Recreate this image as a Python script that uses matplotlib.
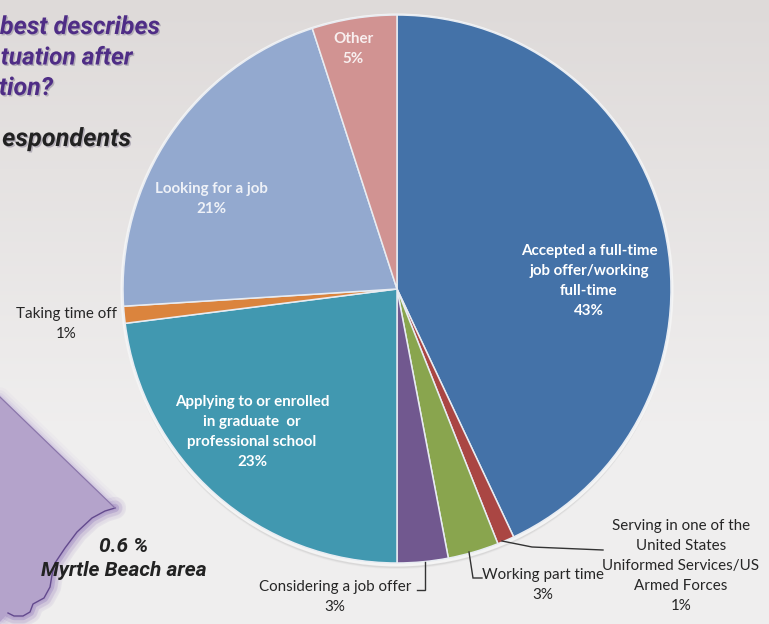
import numpy as np
import matplotlib
matplotlib.use("Agg")
import matplotlib.pyplot as plt
import matplotlib.patheffects as pe
from matplotlib.patches import Circle, Polygon

W, H = 769, 624
CX, CY, R = 397, 289, 274

shares = [43, 1, 3, 3, 23, 1, 21, 5]
colors = ["#4472a8", "#aa4643", "#89a54e", "#71588f",
          "#4198b0", "#db843d", "#93a9cf", "#d19392"]

coast_x = [0, 115, 105, 92, 77, 65, 55, 52, 50, 44, 33, 30, 23, 14, 8, 0]
coast_y = [397, 508, 511, 518, 532, 548, 563, 575, 587, 598, 604, 612, 616, 616, 613, 622]

fig = plt.figure(figsize=(W / 100, H / 100), dpi=100)

# page backdrop: soft vertical ramp from warm grey to near white
bg = fig.add_axes([0, 0, 1, 1])
bg.set_xlim(0, W)
bg.set_ylim(H, 0)
bg.axis("off")
t = np.clip(np.linspace(0, 1, 256) * 1.45, 0, 1)[:, None, None]
ramp = (1 - t) * np.array([[[0.871, 0.855, 0.851]]]) + t * np.array([[[0.94, 0.935, 0.935]]])
bg.imshow(ramp, extent=[0, W, H, 0], aspect="auto", zorder=0)

# state outline with a pale glow along its edge
outline = np.column_stack([coast_x, coast_y])
for lw, a in [(14, 0.05), (10, 0.08), (6, 0.12), (3, 0.18)]:
    bg.add_patch(Polygon(outline, closed=True, fc="none", ec="#a88fd0", lw=lw,
                         alpha=a, joinstyle="round", zorder=1))
for lw, a in [(16, 0.08), (11, 0.12), (6, 0.18)]:
    bg.plot(coast_x[1:-1], coast_y[1:-1], color="#7a5aa8", lw=lw, alpha=a,
            solid_capstyle="round", zorder=1)
bg.add_patch(Polygon(outline, closed=True, fc="#b4a3cb", ec="none", zorder=2))
bg.plot(coast_x[1:-1], coast_y[1:-1], color="#634a8e", lw=1.0, zorder=3)
bg.plot(coast_x[:2], coast_y[:2], color="#8a76aa", lw=0.9, zorder=3)

# rim and drop shadow behind the pie
for off, grow, a in [(5, 1, 0.05), (4, 1, 0.09), (3, 0, 0.14)]:
    bg.add_patch(Circle((CX, CY + off), R + grow, fc="#555555", ec="none",
                        alpha=a, zorder=4))
bg.add_patch(Circle((CX, CY + 1), R + 2.5, fc="#f4f4f4", ec="none", zorder=5))

# heading fragments
heading = dict(family="Roboto", weight="bold", style="italic",
               ha="right", va="center", zorder=6)
shadow = [pe.withSimplePatchShadow(offset=(1, -1), shadow_rgbFace="#a09aa8", alpha=0.7)]
for txt, x, y, size in [("best describes", 160, 27, 18), ("tuation after", 132, 58, 17.6),
                        ("tion?", 53, 88, 18)]:
    bg.text(x, y, txt, color="#4f2d86", path_effects=shadow, fontsize=size, **heading)
bg.text(131, 139, "espondents", color="#222222", path_effects=shadow, fontsize=18.2, **heading)
caption = dict(family="Roboto", weight="bold", style="italic", fontsize=15,
               color="#222222", ha="center", va="center", zorder=6)
bg.text(124, 546, "0.6 %", **caption)
bg.text(124, 571, "Myrtle Beach area", **caption)

# the pie itself, in axes sized so radius 1 spans R pixels
pie_ax = fig.add_axes([(CX - R) / W, 1 - (CY + R) / H, 2 * R / W, 2 * R / H])
pie_ax.pie(shares, colors=colors, startangle=90, counterclock=False, radius=1,
           wedgeprops=dict(edgecolor="#e8ecf2", linewidth=1.1))
pie_ax.set_xlim(-1, 1)
pie_ax.set_ylim(-1, 1)

# annotation layer in pixel coordinates
top = fig.add_axes([0, 0, 1, 1])
top.set_xlim(0, W)
top.set_ylim(H, 0)
top.axis("off")
top.patch.set_alpha(0)

inside = dict(family="Lato", weight="bold", fontsize=10.9, color="white",
              ha="center", va="center", linespacing=1.55)
top.text(589, 281, "Accepted a full-time\njob offer/working\nfull-time\n43%", **inside)
top.text(252, 432, "Applying to or enrolled\nin graduate  or\nprofessional school\n23%", **inside)
top.text(211, 199, "Looking for a job\n21%", **{**inside, "color": "#eef1f7"})
top.text(353, 49, "Other\n5%", **{**inside, "color": "#f8efef"})

outside = dict(family="Lato", fontsize=10.9, color="#262626",
               ha="center", va="center", linespacing=1.55)
top.text(66, 324, "Taking time off\n1%", **outside)
top.text(335, 597, "Considering a job offer\n3%", **outside)
top.text(543, 585, "Working part time\n3%", **outside)
top.text(681, 566, "Serving in one of the\nUnited States\nUniformed Services/US\nArmed Forces\n1%", **outside)

# leader lines
leader = dict(color="#333333", lw=1.0, solid_joinstyle="miter")
top.plot([425, 425, 417], [562, 590, 590], **leader)
top.plot([469, 473, 482], [552, 578, 578], **leader)
top.plot([502, 532, 603], [541, 547, 550], **leader)

fig.savefig("out.png", dpi=100)
